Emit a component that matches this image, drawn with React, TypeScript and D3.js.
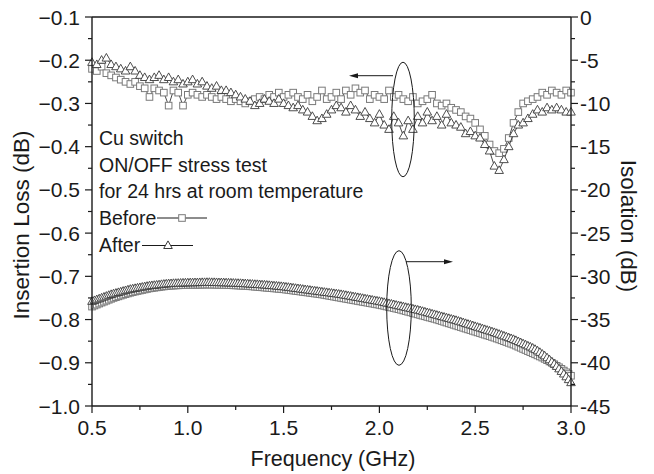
import React from 'react';
import * as d3 from 'd3';

// ---------- data ----------
const IL_FREQ_START = 0.5;
const IL_FREQ_STEP = 0.025;
const IL_BEFORE = [
  -0.22, -0.225, -0.215, -0.23, -0.235, -0.24, -0.245, -0.25, -0.255, -0.25,
  -0.26, -0.265, -0.285, -0.265, -0.27, -0.275, -0.305, -0.27, -0.275, -0.305,
  -0.28, -0.275, -0.28, -0.285, -0.28, -0.285, -0.29, -0.285, -0.29, -0.295,
  -0.29, -0.295, -0.3, -0.295, -0.29, -0.285, -0.29, -0.28, -0.285, -0.275,
  -0.285, -0.28, -0.275, -0.285, -0.29, -0.28, -0.295, -0.285, -0.27, -0.29,
  -0.285, -0.275, -0.29, -0.27, -0.28, -0.265, -0.275, -0.27, -0.29, -0.28,
  -0.285, -0.29, -0.27, -0.285, -0.28, -0.29, -0.295, -0.285, -0.3, -0.295,
  -0.29, -0.28, -0.3, -0.305, -0.3, -0.31, -0.315, -0.32, -0.33, -0.335,
  -0.345, -0.36, -0.375, -0.395, -0.41, -0.415, -0.405, -0.38, -0.345, -0.32,
  -0.3, -0.295, -0.29, -0.285, -0.275, -0.28, -0.27, -0.275, -0.28, -0.27,
  -0.275,
];
const IL_AFTER = [
  -0.205, -0.21, -0.2, -0.195, -0.21, -0.215, -0.22, -0.225, -0.215, -0.225,
  -0.235, -0.24, -0.245, -0.24, -0.235, -0.245, -0.24, -0.25, -0.245, -0.255,
  -0.25, -0.245, -0.255, -0.25, -0.26, -0.265, -0.26, -0.27, -0.27, -0.275,
  -0.28, -0.285, -0.29, -0.295, -0.305, -0.3, -0.29, -0.295, -0.3, -0.29,
  -0.3, -0.305, -0.31, -0.305, -0.315, -0.32, -0.33, -0.34, -0.335, -0.325,
  -0.315, -0.305, -0.31, -0.32, -0.305, -0.315, -0.33, -0.32, -0.335, -0.345,
  -0.325, -0.35, -0.36, -0.33, -0.345, -0.375, -0.34, -0.36, -0.33, -0.345,
  -0.32, -0.34, -0.33, -0.35, -0.325, -0.345, -0.35, -0.355, -0.37, -0.365,
  -0.375, -0.38, -0.395, -0.41, -0.445, -0.455, -0.43, -0.4, -0.37, -0.35,
  -0.345, -0.335, -0.325, -0.315, -0.32, -0.31, -0.315, -0.31, -0.315, -0.32,
  -0.32,
];

const ISO_FREQ_START = 0.5;
const ISO_FREQ_STEP = 0.0125;
const ISO_BEFORE = [
  -33.5, -33.38, -33.27, -33.15, -33.04, -32.93, -32.82, -32.71,
  -32.6, -32.5, -32.41, -32.32, -32.23, -32.14, -32.06, -31.98,
  -31.9, -31.83, -31.76, -31.7, -31.64, -31.58, -31.52, -31.46,
  -31.4, -31.36, -31.32, -31.28, -31.24, -31.2, -31.17, -31.14,
  -31.1, -31.08, -31.07, -31.05, -31.04, -31.03, -31.02, -31.01,
  -31.0, -30.99, -30.98, -30.98, -30.97, -30.97, -30.96, -30.96,
  -30.95, -30.95, -30.96, -30.96, -30.97, -30.98, -30.98, -30.99,
  -31.0, -31.01, -31.02, -31.04, -31.05, -31.06, -31.08, -31.09,
  -31.1, -31.12, -31.15, -31.17, -31.2, -31.22, -31.25, -31.27,
  -31.3, -31.32, -31.35, -31.37, -31.4, -31.42, -31.45, -31.47,
  -31.5, -31.54, -31.57, -31.61, -31.65, -31.69, -31.72, -31.76,
  -31.8, -31.84, -31.87, -31.91, -31.95, -31.99, -32.02, -32.06,
  -32.1, -32.15, -32.2, -32.25, -32.3, -32.35, -32.4, -32.45,
  -32.5, -32.55, -32.6, -32.65, -32.7, -32.75, -32.8, -32.85,
  -32.9, -32.95, -33.0, -33.05, -33.1, -33.15, -33.2, -33.25,
  -33.3, -33.36, -33.42, -33.49, -33.55, -33.61, -33.67, -33.74,
  -33.8, -33.87, -33.95, -34.02, -34.1, -34.17, -34.25, -34.32,
  -34.4, -34.47, -34.55, -34.62, -34.7, -34.77, -34.85, -34.92,
  -35.0, -35.09, -35.17, -35.26, -35.35, -35.44, -35.52, -35.61,
  -35.7, -35.79, -35.87, -35.96, -36.05, -36.14, -36.22, -36.31,
  -36.4, -36.49, -36.57, -36.66, -36.75, -36.84, -36.92, -37.01,
  -37.1, -37.2, -37.3, -37.4, -37.5, -37.6, -37.7, -37.8,
  -37.9, -38.02, -38.15, -38.27, -38.4, -38.52, -38.65, -38.77,
  -38.9, -39.02, -39.15, -39.27, -39.4, -39.55, -39.7, -39.85,
  -40.0, -40.17, -40.35, -40.52, -40.7, -40.9, -41.1, -41.3,
  -41.5,
];
const ISO_AFTER = [
  -32.9, -32.8, -32.7, -32.6, -32.5, -32.4, -32.3, -32.2,
  -32.1, -32.02, -31.95, -31.87, -31.8, -31.72, -31.65, -31.57,
  -31.5, -31.45, -31.4, -31.35, -31.3, -31.25, -31.2, -31.15,
  -31.1, -31.07, -31.04, -31.01, -30.98, -30.94, -30.91, -30.88,
  -30.85, -30.84, -30.82, -30.81, -30.8, -30.79, -30.77, -30.76,
  -30.75, -30.74, -30.74, -30.73, -30.73, -30.72, -30.71, -30.71,
  -30.7, -30.7, -30.71, -30.71, -30.72, -30.73, -30.73, -30.74,
  -30.75, -30.76, -30.77, -30.79, -30.8, -30.81, -30.82, -30.84,
  -30.85, -30.87, -30.89, -30.91, -30.93, -30.94, -30.96, -30.98,
  -31.0, -31.02, -31.05, -31.07, -31.1, -31.12, -31.15, -31.17,
  -31.2, -31.24, -31.27, -31.31, -31.35, -31.39, -31.42, -31.46,
  -31.5, -31.54, -31.57, -31.61, -31.65, -31.69, -31.72, -31.76,
  -31.8, -31.84, -31.87, -31.91, -31.95, -31.99, -32.02, -32.06,
  -32.1, -32.15, -32.2, -32.25, -32.3, -32.35, -32.4, -32.45,
  -32.5, -32.55, -32.6, -32.65, -32.7, -32.75, -32.8, -32.85,
  -32.9, -32.96, -33.02, -33.09, -33.15, -33.21, -33.27, -33.34,
  -33.4, -33.46, -33.52, -33.59, -33.65, -33.71, -33.77, -33.84,
  -33.9, -33.97, -34.05, -34.12, -34.2, -34.27, -34.35, -34.42,
  -34.5, -34.57, -34.65, -34.72, -34.8, -34.87, -34.95, -35.02,
  -35.1, -35.19, -35.27, -35.36, -35.45, -35.54, -35.62, -35.71,
  -35.8, -35.89, -35.97, -36.06, -36.15, -36.24, -36.32, -36.41,
  -36.5, -36.6, -36.7, -36.8, -36.9, -37.0, -37.1, -37.2,
  -37.3, -37.42, -37.55, -37.67, -37.8, -37.92, -38.05, -38.17,
  -38.3, -38.45, -38.62, -38.8, -39.0, -39.2, -39.42, -39.65,
  -39.9, -40.15, -40.42, -40.7, -41.0, -41.3, -41.62, -41.95,
  -42.3,
];

const X_TICKS = [0.5, 1.0, 1.5, 2.0, 2.5, 3.0];
const X_TICK_LABELS = ['0.5', '1.0', '1.5', '2.0', '2.5', '3.0'];
const X_MINOR = [0.75, 1.25, 1.75, 2.25, 2.75];
const IL_TICKS = [-0.1, -0.2, -0.3, -0.4, -0.5, -0.6, -0.7, -0.8, -0.9, -1.0];
const IL_TICK_LABELS = ['\u22120.1', '\u22120.2', '\u22120.3', '\u22120.4', '\u22120.5', '\u22120.6', '\u22120.7', '\u22120.8', '\u22120.9', '\u22121.0'];
const IL_MINOR = [-0.15, -0.25, -0.35, -0.45, -0.55, -0.65, -0.75, -0.85, -0.95];
const ISO_TICKS = [0, -5, -10, -15, -20, -25, -30, -35, -40, -45];
const ISO_TICK_LABELS = ['0', '-5', '-10', '-15', '-20', '-25', '-30', '-35', '-40', '-45'];
const ISO_MINOR = [-2.5, -7.5, -12.5, -17.5, -22.5, -27.5, -32.5, -37.5, -42.5];
const NOTE_LINES = ['Cu switch', 'ON/OFF stress test', 'for 24 hrs at room temperature'];
const LEGEND_LABELS = ['Before', 'After'];
const X_TITLE = 'Frequency (GHz)';
const YL_TITLE = 'Insertion Loss (dB)';
const YR_TITLE = 'Isolation (dB)';

// ---------- layout ----------
const W = 654, H = 474;
const L = 92, R = 571, T = 17, B = 406;
const FONT = '"Liberation Sans", Arial, Helvetica, sans-serif';
const INK = '#1a1a1a';
const SQ_STROKE = '#7a7a7a';
const TRI_STROKE = '#3a3a3a';

const x = d3.scaleLinear().domain([0.5, 3.0]).range([L, R]);
const yL = d3.scaleLinear().domain([-1.0, -0.1]).range([B, T]);
const yR = d3.scaleLinear().domain([-45, 0]).range([B, T]);

const ilPts = (vals: number[]) => vals.map((v, i) => [IL_FREQ_START + i * IL_FREQ_STEP, v] as [number, number]);
const isoPts = (vals: number[]) => vals.map((v, i) => [ISO_FREQ_START + i * ISO_FREQ_STEP, v] as [number, number]);

const triPath = 'M0,-4.6 L4.3,3 L-4.3,3 Z';
const SQ = 3.3;

function Series({ pts, ys, kind }: { pts: [number, number][]; ys: d3.ScaleLinear<number, number>; kind: 'sq' | 'tri' }) {
  const line = d3.line<[number, number]>().x(d => x(d[0])).y(d => ys(d[1]));
  return (
    <g>
      <path d={line(pts) || ''} fill="none" stroke={INK} strokeWidth={0.8} />
      {pts.map((d, i) =>
        kind === 'sq' ? (
          <rect key={i} x={x(d[0]) - SQ} y={ys(d[1]) - SQ} width={SQ * 2} height={SQ * 2} fill="#fff" stroke={SQ_STROKE} strokeWidth={1} />
        ) : (
          <path key={i} d={triPath} transform={`translate(${x(d[0])},${ys(d[1])})`} fill="#fff" stroke={TRI_STROKE} strokeWidth={0.9} />
        )
      )}
    </g>
  );
}

export default function App() {
  const ilB = ilPts(IL_BEFORE);
  const ilA = ilPts(IL_AFTER);
  const isoB = isoPts(ISO_BEFORE);
  const isoA = isoPts(ISO_AFTER);
  const noteY = [145, 171.5, 198];
  const legY = [225, 252];
  return (
    <svg width={W} height={H} style={{ position: 'absolute', left: 0, top: 0, background: '#fff' }} fontFamily={FONT}>
      <rect x={0} y={0} width={W} height={H} fill="#fff" />
      {/* data */}
      <Series pts={isoB} ys={yR} kind="sq" />
      <Series pts={isoA} ys={yR} kind="tri" />
      <Series pts={ilB} ys={yL} kind="sq" />
      <Series pts={ilA} ys={yL} kind="tri" />

      {/* frame */}
      <g stroke={INK} strokeWidth={1.4} fill="none">
        <line x1={L} y1={T} x2={R} y2={T} />
        <line x1={L} y1={B} x2={R} y2={B} />
        <line x1={L} y1={T} x2={L} y2={B} />
        <line x1={R} y1={T} x2={R} y2={B} />
      </g>
      {/* ticks */}
      <g stroke={INK} strokeWidth={1.2}>
        {X_TICKS.map(t => <line key={'xt' + t} x1={x(t)} x2={x(t)} y1={B} y2={B + 7} />)}
        {X_MINOR.map(t => <line key={'xm' + t} x1={x(t)} x2={x(t)} y1={B} y2={B + 4} />)}
        {IL_TICKS.map(t => <line key={'lt' + t} x1={L - 7} x2={L} y1={yL(t)} y2={yL(t)} />)}
        {IL_MINOR.map(t => <line key={'lm' + t} x1={L - 4} x2={L} y1={yL(t)} y2={yL(t)} />)}
        {ISO_TICKS.map(t => <line key={'rt' + t} x1={R} x2={R + 7} y1={yR(t)} y2={yR(t)} />)}
        {ISO_MINOR.map(t => <line key={'rm' + t} x1={R} x2={R + 4} y1={yR(t)} y2={yR(t)} />)}
      </g>
      {/* tick labels */}
      <g fill={INK} fontSize={21}>
        {X_TICKS.map((t, i) => (
          <text key={'xl' + t} x={x(t)} y={434.5} textAnchor="middle">{X_TICK_LABELS[i]}</text>
        ))}
        {IL_TICKS.map((t, i) => (
          <text key={'ll' + t} x={80} y={yL(t) + 7.5} textAnchor="end">{IL_TICK_LABELS[i]}</text>
        ))}
        {ISO_TICKS.map((t, i) => (
          <text key={'rl' + t} x={580} y={yR(t) + 7.5} textAnchor="start">{ISO_TICK_LABELS[i]}</text>
        ))}
      </g>
      {/* axis titles */}
      <g fill={INK} fontSize={22.5}>
        <text x={333} y={466} textAnchor="middle" fontSize={21.5}>{X_TITLE}</text>
        <text transform="translate(29,225) rotate(-90)" textAnchor="middle">{YL_TITLE}</text>
        <text transform="translate(621,226) rotate(90)" textAnchor="middle">{YR_TITLE}</text>
      </g>
      {/* notes */}
      <g fill={INK} fontSize={19.5}>
        {NOTE_LINES.map((s, i) => <text key={s} x={99} y={noteY[i]}>{s}</text>)}
        <text x={99} y={legY[0]}>{LEGEND_LABELS[0]}</text>
        <text x={99} y={legY[1]}>{LEGEND_LABELS[1]}</text>
      </g>
      {/* legend samples */}
      <g>
        <line x1={157} x2={207} y1={legY[0] - 7} y2={legY[0] - 7} stroke={INK} strokeWidth={1} />
        <rect x={182 - SQ} y={legY[0] - 7 - SQ} width={SQ * 2} height={SQ * 2} fill="#fff" stroke={SQ_STROKE} />
        <line x1={142} x2={193} y1={legY[1] - 6.5} y2={legY[1] - 6.5} stroke={INK} strokeWidth={1} />
        <path d={triPath} transform={`translate(168,${legY[1] - 6.5})`} fill="#fff" stroke={TRI_STROKE} />
      </g>
      {/* ellipses and arrows */}
      <g stroke={INK} strokeWidth={1} fill="none">
        <ellipse cx={403} cy={119.5} rx={11.3} ry={57.3} />
        <line x1={393} y1={75.7} x2={356} y2={75.7} />
        <ellipse cx={399} cy={308} rx={12.3} ry={57.3} />
        <line x1={406} y1={261.7} x2={446} y2={261.7} />
      </g>
      <g fill={INK}>
        <path d="M349,75.7 L358,73.2 L358,78.2 Z" />
        <path d="M453,261.7 L444,259.2 L444,264.2 Z" />
      </g>
    </svg>
  );
}
